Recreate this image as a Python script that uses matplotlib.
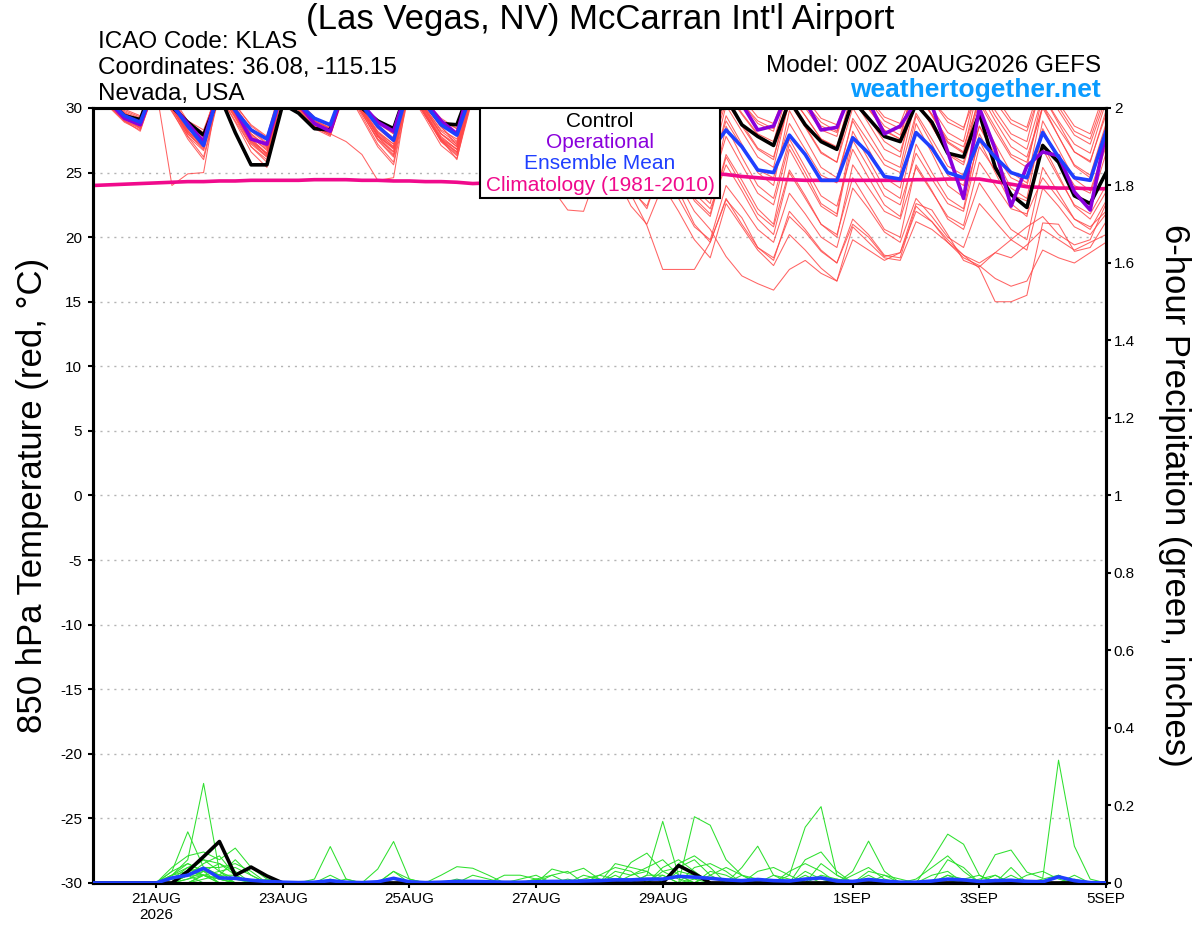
import numpy as np
import pandas as pd
import matplotlib
matplotlib.use('Agg')
import matplotlib.pyplot as plt
from matplotlib.patches import Rectangle

plt.rcParams['font.family'] = ['Liberation Sans', 'DejaVu Sans']
plt.rcParams['axes.unicode_minus'] = False

# 6-hourly valid times, 00Z 20AUG2026 -> 00Z 05SEP2026
times = pd.date_range('2026-08-20 00:00', periods=65, freq='6h')

# 850 hPa temperature (C)
control = [31.5, 30.6, 29.4, 29.1, 32.5, 30.1, 28.9, 27.9, 31.0, 28.1, 25.6, 25.6,
           30.3, 29.6, 28.4, 28.3, 32.0, 30.0, 29.0, 28.4, 32.0, 30.3, 28.8, 28.7,
           32.0, 30.8, 29.5, 28.8, 32.0, 30.5, 29.2, 28.5, 31.5, 30.0, 28.8, 28.0,
           31.5, 30.2, 29.2, 28.4, 30.8, 28.7, 27.8, 27.1, 30.6, 28.7, 27.4, 26.8,
           30.6, 29.2, 27.8, 27.4, 30.3, 28.9, 26.5, 26.2, 29.6, 25.4, 23.3, 22.3,
           27.1, 25.8, 23.2, 22.6, 25.0]
operational = [31.5, 30.5, 29.2, 28.7, 32.0, 30.2, 28.8, 27.4, 31.5, 29.8, 27.6, 27.2,
               31.5, 30.3, 28.8, 28.2, 32.0, 30.3, 28.9, 28.2, 32.0, 30.5, 29.0, 28.0,
               32.5, 31.0, 29.6, 29.0, 32.5, 31.0, 29.8, 29.0, 32.0, 30.8, 29.5, 28.8,
               32.0, 30.6, 29.5, 29.0, 31.5, 30.3, 28.3, 28.6, 31.5, 30.5, 28.3, 28.5,
               31.5, 30.5, 28.0, 28.6, 30.5, 30.2, 26.6, 23.0, 30.0, 26.8, 22.4, 25.5,
               26.6, 26.3, 23.5, 22.1, 28.1]
ens_mean = [31.3, 30.6, 29.4, 28.9, 32.0, 30.3, 28.6, 27.1, 31.5, 29.8, 28.3, 27.6,
            31.5, 30.3, 29.2, 28.7, 32.0, 30.2, 28.6, 27.5, 31.8, 30.3, 28.7, 27.9,
            31.5, 30.3, 29.0, 28.2, 31.3, 29.8, 28.4, 27.6, 30.8, 29.2, 27.8, 27.0,
            30.3, 28.8, 27.5, 26.6, 28.3, 27.0, 25.2, 25.0, 27.9, 26.4, 24.4, 24.4,
            27.7, 26.5, 24.7, 24.5, 28.1, 26.9, 25.0, 24.6, 27.6, 26.2, 25.0, 24.6,
            28.1, 26.2, 24.6, 24.4, 28.2]
climatology = [24.0, 24.05, 24.1, 24.15, 24.2, 24.25, 24.3, 24.3,
               24.35, 24.35, 24.4, 24.4, 24.4, 24.4, 24.45, 24.45,
               24.45, 24.4, 24.4, 24.35, 24.35, 24.3, 24.3, 24.25,
               24.15, 24.2, 24.3, 24.4, 24.5, 24.6, 24.7, 24.8,
               24.9, 25.0, 25.05, 25.1, 25.1, 25.05, 25.0, 24.95,
               24.85, 24.7, 24.6, 24.5, 24.45, 24.4, 24.4, 24.4,
               24.4, 24.4, 24.4, 24.4, 24.45, 24.45, 24.5, 24.5,
               24.5, 24.3, 24.1, 23.9, 23.85, 23.8, 23.8, 23.75, 23.75]

members = [
    [31.8, 30.8, 29.6, 29.0, 31.5, 24.0, 24.9, 25.0, 32.0, 30.2, 28.7, 27.8,
     32.2, 30.6, 29.3, 28.6, 32.5, 30.4, 28.9, 28.0, 32.0, 30.5, 29.2, 28.4,
     32.4, 30.9, 29.6, 28.9, 32.6, 31.0, 29.7, 29.0, 32.0, 30.4, 29.0, 28.2,
     31.5, 29.8, 28.4, 27.6, 31.2, 29.5, 27.9, 27.2, 31.0, 29.4, 27.6, 27.0,
     31.4, 29.9, 28.3, 27.6, 31.0, 29.5, 27.6, 27.0, 30.6, 28.5, 26.4, 25.8,
     30.2, 28.4, 26.6, 25.9, 29.5],
    [32.0, 30.9, 29.8, 29.3, 32.4, 30.9, 29.0, 28.3, 31.6, 30.0, 28.4, 27.5,
     31.5, 30.2, 28.6, 28.0, 27.4, 26.4, 24.4, 24.6, 32.0, 30.2, 28.8, 28.0,
     31.5, 30.2, 28.8, 28.0, 31.0, 29.4, 27.8, 27.1, 30.2, 28.6, 26.8, 26.0,
     29.5, 27.6, 25.8, 25.0, 29.0, 27.0, 25.2, 24.6, 28.8, 26.8, 24.8, 24.2,
     29.2, 27.4, 25.6, 25.0, 29.6, 27.6, 25.5, 24.8, 28.6, 26.4, 24.6, 24.0,
     28.0, 26.0, 24.0, 23.4, 27.0],
    [31.2, 30.1, 28.9, 28.3, 31.6, 29.7, 27.8, 26.7, 31.0, 29.0, 27.0, 26.0,
     31.3, 29.9, 28.5, 27.9, 31.4, 29.2, 27.0, 25.6, 31.2, 29.2, 27.1, 26.1,
     30.8, 28.8, 26.8, 25.6, 28.0, 23.8, 22.1, 22.0, 25.5, 24.0, 23.3, 20.9,
     17.5, 17.5, 17.5, 19.6, 22.9, 21.5, 19.2, 18.4, 21.6, 20.4, 18.9, 18.0,
     21.0, 20.0, 18.5, 18.8, 22.6, 22.1, 20.2, 18.2, 17.7, 18.8, 19.8, 20.8,
     21.6, 20.2, 19.4, 19.8, 22.6],
    [31.5, 30.4, 29.1, 28.5, 31.9, 30.0, 28.0, 26.9, 31.3, 29.4, 27.3, 26.3,
     31.5, 30.0, 28.6, 28.0, 31.8, 29.8, 27.8, 26.6, 31.5, 29.6, 27.7, 26.8,
     31.3, 29.3, 27.4, 26.4, 30.6, 28.4, 26.2, 25.0, 28.6, 26.4, 24.2, 23.0,
     26.4, 24.2, 22.0, 20.6, 18.5, 17.0, 16.4, 15.9, 17.5, 18.2, 17.2, 16.6,
     20.8, 19.6, 18.4, 18.2, 21.2, 20.6, 19.6, 18.6, 17.6, 15.0, 15.0, 15.5,
     21.1, 21.0, 18.9, 19.2, 21.2],
    [31.6, 30.5, 29.3, 28.8, 32.2, 30.4, 28.4, 27.3, 31.4, 29.6, 28.0, 27.0,
     31.8, 30.3, 29.0, 28.4, 32.1, 30.1, 28.4, 27.4, 31.8, 30.0, 28.3, 27.6,
     32.0, 30.4, 29.0, 28.3, 32.2, 30.6, 29.2, 28.5, 31.6, 30.0, 28.6, 27.8,
     31.8, 30.2, 28.8, 28.0, 32.0, 30.4, 29.0, 28.4, 32.2, 30.4, 28.9, 28.2,
     32.0, 30.2, 28.6, 27.9, 32.3, 30.6, 29.2, 28.5, 31.6, 29.4, 27.6, 26.8,
     31.0, 29.0, 27.2, 26.5, 30.5],
    [31.9, 30.7, 29.5, 28.9, 32.5, 30.2, 28.0, 26.8, 31.8, 29.8, 27.6, 26.4,
     31.6, 30.1, 28.8, 28.1, 31.8, 29.8, 27.8, 26.9, 32.0, 30.2, 28.5, 27.4,
     32.5, 30.8, 29.4, 28.6, 32.8, 31.0, 29.5, 28.8, 32.6, 30.8, 29.2, 28.5,
     32.0, 30.3, 28.8, 28.1, 31.4, 29.6, 28.0, 27.4, 31.8, 30.0, 28.3, 27.8,
     32.4, 30.6, 29.0, 28.4, 31.5, 29.5, 27.4, 26.6, 32.0, 29.8, 28.0, 27.4,
     32.2, 30.1, 28.2, 27.6, 31.2],
    [31.4, 30.4, 29.2, 28.6, 32.0, 30.0, 27.8, 26.2, 31.2, 29.2, 27.0, 25.8,
     31.4, 30.0, 28.6, 27.9, 31.5, 29.6, 27.6, 26.6, 31.6, 29.8, 27.8, 26.8,
     31.8, 30.2, 28.8, 28.0, 32.0, 30.3, 28.8, 28.0, 31.5, 29.6, 27.8, 27.0,
     30.8, 29.0, 27.2, 26.4, 30.5, 28.6, 26.8, 26.0, 31.2, 29.4, 27.6, 26.9,
     30.8, 28.8, 26.8, 26.2, 31.4, 29.4, 27.3, 26.5, 30.4, 28.2, 26.2, 25.4,
     31.0, 28.8, 26.6, 25.8, 29.8],
    [32.2, 31.0, 29.9, 29.4, 32.6, 30.7, 28.8, 27.9, 32.0, 30.3, 28.6, 27.7,
     32.0, 30.5, 29.2, 28.7, 32.4, 30.5, 28.8, 28.0, 32.3, 30.6, 29.0, 28.4,
     32.6, 31.0, 29.6, 29.0, 32.4, 30.8, 29.4, 28.7, 31.8, 30.2, 28.7, 27.9,
     32.2, 30.6, 29.2, 28.6, 32.5, 30.8, 29.3, 28.8, 32.0, 30.2, 28.6, 28.1,
     32.6, 30.8, 29.3, 28.8, 32.0, 30.0, 28.1, 27.4, 32.4, 30.5, 28.8, 28.2,
     31.8, 29.8, 27.9, 27.2, 30.8],
    [31.7, 30.6, 29.4, 28.4, 32.1, 30.1, 28.2, 27.0, 31.5, 29.5, 27.4, 26.2,
     31.7, 30.2, 28.9, 28.3, 31.6, 29.4, 27.2, 25.8, 31.7, 29.9, 28.0, 27.0,
     32.1, 30.5, 29.0, 28.2, 31.6, 29.9, 28.3, 27.5, 31.0, 29.2, 27.5, 26.6,
     31.2, 29.4, 27.6, 26.9, 30.8, 28.8, 26.9, 26.2, 30.4, 28.5, 26.5, 25.8,
     31.0, 29.2, 27.4, 26.6, 30.6, 28.6, 26.5, 25.8, 31.2, 29.0, 27.0, 26.2,
     30.0, 27.8, 25.6, 24.8, 28.8],
    [32.0, 30.8, 29.6, 29.1, 32.3, 30.6, 28.9, 28.1, 31.9, 30.1, 28.3, 27.3,
     31.9, 30.4, 29.0, 28.5, 32.2, 30.3, 28.6, 27.7, 32.1, 30.4, 28.6, 27.1,
     32.3, 30.6, 29.2, 28.5, 32.5, 30.8, 29.3, 28.6, 32.2, 30.6, 29.0, 28.3,
     32.5, 30.8, 29.4, 28.8, 32.2, 30.4, 28.8, 28.2, 32.6, 30.8, 29.2, 28.7,
     32.0, 30.0, 28.2, 27.6, 32.5, 30.6, 28.9, 28.3, 32.8, 30.9, 29.1, 28.5,
     32.4, 30.4, 28.6, 28.0, 31.6],
    [31.5, 30.3, 29.0, 28.2, 31.9, 29.8, 27.6, 26.0, 31.0, 28.9, 26.6, 25.4,
     31.5, 30.0, 28.7, 28.0, 31.9, 29.9, 28.1, 27.2, 31.5, 29.5, 27.4, 26.4,
     31.7, 30.0, 28.5, 27.6, 31.2, 29.5, 27.8, 26.9, 30.8, 28.8, 26.9, 25.8,
     30.0, 28.0, 26.0, 25.2, 30.2, 28.2, 26.2, 25.4, 30.6, 28.6, 26.6, 25.8,
     30.0, 28.0, 26.0, 25.4, 30.8, 28.6, 26.4, 25.6, 29.6, 27.2, 25.0, 24.2,
     30.2, 27.8, 25.5, 24.6, 28.6],
    [31.6, 30.5, 29.3, 28.7, 32.0, 30.2, 28.3, 27.5, 31.3, 29.5, 27.7, 26.8,
     31.7, 30.3, 29.0, 28.4, 32.0, 30.0, 28.1, 27.0, 31.6, 29.8, 28.0, 27.2,
     31.6, 29.8, 28.2, 27.4, 31.0, 29.0, 27.0, 26.0, 29.5, 27.5, 25.5, 24.5,
     28.8, 26.8, 24.6, 23.6, 27.8, 25.6, 23.4, 22.5, 27.2, 25.0, 22.6, 21.8,
     28.2, 26.0, 23.8, 23.0, 28.8, 26.5, 24.0, 23.1, 27.5, 25.0, 22.6, 21.6,
     28.4, 26.0, 23.5, 22.5, 26.5],
    [31.8, 30.6, 29.4, 28.9, 32.2, 30.3, 28.4, 27.4, 31.6, 29.8, 27.8, 26.7,
     31.4, 29.8, 28.4, 27.8, 31.7, 29.6, 27.5, 26.2, 31.4, 29.4, 27.6, 26.8,
     31.2, 29.4, 27.8, 26.9, 30.4, 28.4, 26.4, 25.2, 29.6, 27.2, 24.8, 23.4,
     28.0, 25.6, 23.0, 21.8, 26.4, 24.4, 22.2, 21.0, 26.8, 24.6, 22.4, 21.6,
     27.5, 25.4, 23.2, 22.5, 26.5, 24.5, 22.6, 22.0, 27.0, 25.2, 23.3, 22.8,
     26.8, 24.6, 22.5, 21.8, 24.0],
    [31.3, 30.2, 29.0, 28.5, 31.8, 30.0, 28.1, 27.2, 31.1, 29.3, 27.4, 26.5,
     31.6, 30.1, 28.8, 28.2, 31.6, 29.7, 27.9, 26.9, 31.3, 29.4, 27.5, 26.6,
     31.0, 29.0, 27.2, 26.2, 29.8, 27.6, 25.4, 24.4, 28.4, 26.0, 24.0, 23.0,
     28.2, 26.0, 23.8, 22.6, 28.6, 26.2, 24.0, 23.0, 27.6, 25.4, 23.2, 22.4,
     26.8, 24.6, 22.5, 21.6, 27.2, 25.0, 23.0, 22.2, 28.0, 25.6, 23.2, 22.3,
     27.2, 24.8, 22.4, 21.4, 23.5],
    [32.1, 30.9, 29.7, 29.2, 32.4, 30.5, 28.6, 27.6, 31.7, 29.9, 28.0, 27.0,
     31.9, 30.4, 29.1, 28.6, 32.0, 29.9, 27.8, 26.4, 31.9, 30.0, 28.2, 27.3,
     31.8, 30.0, 28.4, 27.6, 31.4, 29.5, 27.6, 26.6, 30.4, 28.4, 26.2, 25.0,
     29.4, 27.4, 25.4, 24.4, 29.4, 27.2, 25.0, 24.0, 29.8, 27.6, 25.4, 24.6,
     29.0, 26.8, 24.6, 23.8, 29.4, 27.2, 24.8, 24.0, 28.6, 26.2, 23.8, 23.0,
     29.0, 26.8, 24.5, 23.6, 27.2],
    [31.9, 30.7, 29.6, 29.0, 32.3, 30.4, 28.6, 27.8, 31.8, 30.0, 28.2, 27.2,
     32.1, 30.5, 29.2, 28.7, 32.3, 30.3, 28.5, 27.6, 31.7, 29.7, 27.6, 26.0,
     31.4, 29.6, 27.8, 27.0, 30.8, 28.8, 26.8, 25.8, 30.0, 27.8, 25.6, 24.2,
     28.2, 25.8, 23.4, 22.2, 25.6, 23.6, 21.4, 20.2, 25.0, 23.0, 21.0, 20.0,
     25.6, 23.8, 22.0, 21.4, 25.4, 23.5, 21.6, 20.9, 25.8, 24.0, 22.2, 21.8,
     24.6, 23.0, 21.4, 20.8, 22.0],
    [31.7, 30.5, 29.2, 28.6, 32.1, 30.2, 28.2, 27.1, 31.5, 29.7, 27.6, 26.5,
     31.8, 30.3, 28.9, 28.3, 31.9, 29.9, 28.0, 27.0, 31.4, 29.4, 27.4, 26.3,
     30.9, 28.8, 26.8, 25.6, 29.8, 27.6, 25.4, 24.0, 27.0, 24.8, 22.4, 21.0,
     24.0, 22.0, 19.8, 18.4, 22.6, 20.8, 19.0, 17.8, 20.2, 19.0, 17.6, 16.6,
     19.8, 19.0, 18.2, 18.8, 22.0, 21.2, 19.8, 18.6, 18.0, 18.8, 18.4, 19.4,
     20.6, 19.8, 19.0, 19.6, 20.2],
    [31.4, 30.2, 29.0, 28.4, 31.7, 29.9, 28.0, 27.0, 31.2, 29.3, 27.2, 26.2,
     31.6, 30.0, 28.7, 28.1, 31.7, 29.6, 27.6, 26.3, 31.5, 29.5, 27.5, 26.5,
     31.1, 29.1, 27.1, 26.0, 30.0, 28.0, 26.0, 24.8, 28.0, 25.8, 23.6, 22.4,
     25.8, 23.0, 20.8, 19.8, 24.0, 22.4, 20.6, 19.6, 23.4, 21.8, 20.0, 19.2,
     23.8, 22.2, 20.4, 19.6, 23.0, 21.6, 20.0, 19.2, 22.6, 21.2, 19.8, 19.0,
     23.8, 22.4, 20.8, 20.2, 21.8],
    [32.0, 30.8, 29.5, 28.9, 32.3, 30.4, 28.5, 27.6, 31.6, 29.8, 27.9, 26.9,
     31.8, 30.3, 29.0, 28.4, 32.0, 30.0, 28.2, 27.2, 31.8, 29.9, 28.0, 27.0,
     31.5, 29.6, 27.8, 26.8, 30.8, 28.8, 26.8, 25.6, 29.2, 27.0, 24.8, 23.6,
     27.4, 25.2, 22.8, 21.6, 26.2, 24.0, 21.8, 20.8, 25.2, 23.2, 21.0, 20.2,
     24.6, 22.6, 20.6, 20.0, 25.6, 23.6, 21.4, 20.6, 24.2, 22.4, 20.6, 19.8,
     25.4, 23.4, 21.4, 20.6, 22.8],
    [31.6, 30.4, 29.2, 28.6, 32.0, 30.1, 28.2, 27.2, 31.4, 29.5, 27.5, 26.4,
     31.7, 30.2, 28.8, 28.2, 31.9, 29.8, 27.9, 26.8, 31.6, 29.6, 27.6, 26.6,
     31.2, 29.2, 27.2, 26.0, 30.2, 28.2, 26.0, 24.6, 28.4, 26.2, 23.8, 22.2,
     26.0, 23.6, 21.0, 19.6, 23.0, 21.0, 19.2, 18.2, 22.0, 20.6, 19.0, 18.0,
     21.4, 20.2, 18.6, 18.4, 22.4, 21.2, 19.6, 18.4, 17.8, 16.8, 16.2, 16.6,
     19.0, 18.4, 18.0, 18.8, 19.6],
]

# 6-hour precipitation (inches): step index -> amount, dry elsewhere
precip_members = [
    {5: 0.02, 6: 0.06, 7: 0.257, 8: 0.03, 9: 0.01, 28: 0.01, 29: 0.02, 35: 0.02, 36: 0.159, 37: 0.02, 45: 0.03, 46: 0.01, 57: 0.02},
    {5: 0.03, 6: 0.132, 7: 0.04, 8: 0.02, 15: 0.02, 33: 0.05, 34: 0.04, 35: 0.03, 38: 0.171, 39: 0.149, 40: 0.06, 41: 0.02, 54: 0.02},
    {5: 0.04, 6: 0.07, 7: 0.08, 8: 0.06, 9: 0.09, 10: 0.04, 11: 0.01, 19: 0.03, 44: 0.02, 45: 0.144, 46: 0.197, 47: 0.02, 61: 0.02},
    {5: 0.01, 6: 0.04, 7: 0.06, 8: 0.05, 9: 0.03, 14: 0.01, 15: 0.094, 16: 0.01, 48: 0.03, 49: 0.108, 50: 0.03},
    {6: 0.02, 7: 0.05, 8: 0.07, 9: 0.02, 18: 0.036, 19: 0.107, 20: 0.01, 53: 0.06, 54: 0.126, 55: 0.10, 56: 0.02},
    {5: 0.03, 6: 0.05, 7: 0.03, 8: 0.02, 22: 0.02, 23: 0.042, 24: 0.038, 25: 0.02, 57: 0.073, 58: 0.085, 59: 0.028, 60: 0.012, 61: 0.317, 62: 0.095, 63: 0.01},
    {5: 0.02, 6: 0.03, 7: 0.04, 8: 0.04, 9: 0.05, 10: 0.03, 29: 0.036, 30: 0.025, 31: 0.038, 32: 0.01, 41: 0.04, 42: 0.095, 43: 0.02},
    {6: 0.01, 7: 0.03, 8: 0.02, 9: 0.06, 10: 0.02, 26: 0.02, 27: 0.02, 28: 0.01, 34: 0.053, 35: 0.077, 36: 0.03, 37: 0.01, 49: 0.02, 54: 0.06, 55: 0.04},
    {5: 0.01, 6: 0.02, 7: 0.02, 8: 0.01, 19: 0.03, 20: 0.01, 33: 0.02, 36: 0.04, 37: 0.06, 38: 0.03, 45: 0.06, 46: 0.08, 47: 0.03, 58: 0.04},
    {6: 0.03, 7: 0.06, 8: 0.03, 24: 0.02, 25: 0.01, 31: 0.02, 32: 0.01, 37: 0.05, 38: 0.07, 39: 0.04, 52: 0.01, 53: 0.04, 54: 0.07, 55: 0.03, 62: 0.01},
    {5: 0.02, 6: 0.04, 7: 0.02, 11: 0.01, 16: 0.01, 29: 0.02, 30: 0.03, 39: 0.03, 40: 0.02, 42: 0.03, 43: 0.04, 44: 0.02, 50: 0.02, 51: 0.01, 60: 0.01, 61: 0.02},
    {6: 0.02, 7: 0.03, 8: 0.05, 9: 0.02, 27: 0.01, 28: 0.02, 33: 0.03, 34: 0.02, 35: 0.04, 36: 0.06, 37: 0.02, 46: 0.05, 47: 0.02, 56: 0.01, 57: 0.02},
    {7: 0.02, 8: 0.03, 9: 0.04, 10: 0.02, 23: 0.01, 35: 0.02, 36: 0.02, 38: 0.04, 39: 0.05, 40: 0.03, 48: 0.02, 49: 0.04, 50: 0.01, 58: 0.02},
    {5: 0.02, 6: 0.05, 7: 0.03, 31: 0.01, 32: 0.02, 33: 0.04, 34: 0.03, 44: 0.03, 45: 0.05, 46: 0.03, 53: 0.02, 54: 0.03, 62: 0.02},
    {6: 0.01, 7: 0.02, 19: 0.01, 36: 0.03, 37: 0.04, 38: 0.06, 39: 0.02, 41: 0.02, 42: 0.01, 47: 0.01, 59: 0.02, 60: 0.03, 61: 0.01},
    {6: 0.03, 7: 0.02, 8: 0.01, 30: 0.01, 34: 0.02, 35: 0.03, 43: 0.02, 44: 0.01, 55: 0.01, 56: 0.02},
    {7: 0.01, 8: 0.02, 9: 0.02, 37: 0.03, 38: 0.02, 45: 0.02, 49: 0.03, 50: 0.02},
    {5: 0.01, 6: 0.02, 15: 0.01, 39: 0.02, 40: 0.04, 41: 0.02, 57: 0.01},
    {6: 0.02, 7: 0.04, 8: 0.02, 32: 0.02, 33: 0.01, 36: 0.02, 46: 0.02, 47: 0.01},
    {7: 0.02, 8: 0.01, 28: 0.01, 38: 0.01, 42: 0.01, 54: 0.02, 55: 0.01},
]
precip_control = {6: 0.03, 7: 0.068, 8: 0.107, 9: 0.02, 10: 0.041, 11: 0.018, 37: 0.045, 38: 0.024}
precip_mean = [0, 0, 0, 0, 0, 0.013, 0.02, 0.038, 0.013, 0.012, 0.007, 0.004,
               0.002, 0.001, 0.002, 0.006, 0.002, 0.001, 0.003, 0.012, 0.003, 0.001, 0.002, 0.004,
               0.004, 0.003, 0.002, 0.002, 0.003, 0.004, 0.004, 0.005, 0.006, 0.008, 0.008, 0.010,
               0.010, 0.017, 0.015, 0.012, 0.008, 0.006, 0.009, 0.006, 0.005, 0.010, 0.013, 0.005,
               0.004, 0.009, 0.005, 0.002, 0.002, 0.005, 0.010, 0.008, 0.004, 0.006, 0.007, 0.004,
               0.003, 0.016, 0.006, 0.001, 0]

tick_dates = ['2026-08-21', '2026-08-23', '2026-08-25', '2026-08-27',
              '2026-08-29', '2026-09-01', '2026-09-03', '2026-09-05']
tick_labels = ['21AUG\n2026', '23AUG', '25AUG', '27AUG', '29AUG', '1SEP', '3SEP', '5SEP']
legend_items = [('Control', 'black'), ('Operational', '#8a00dc'),
                ('Ensemble Mean', '#1f3fff'), ('Climatology (1981-2010)', '#f00a8c')]


def full_series(events):
    vals = np.zeros(len(times))
    for k, v in events.items():
        vals[k] = v
    return vals


fig = plt.figure(figsize=(12, 9.27), dpi=100)
ax = fig.add_axes([0.0773, 0.0475, 0.8444, 0.836])

for m in members:
    ax.plot(times, m, color='#ff4848', lw=0.75, alpha=0.85, zorder=2)
ax.plot(times, climatology, color='#f00a8c', lw=2.6, zorder=3)
ax.plot(times, control, color='black', lw=2.6, zorder=4)
ax.plot(times, operational, color='#8a00dc', lw=2.6, zorder=5)
ax.plot(times, ens_mean, color='#1f3fff', lw=2.6, zorder=6)

ax.set_xlim(times[0], times[-1])
ax.set_ylim(-30, 30)
ax.set_yticks(range(-30, 31, 5))
ax.set_xticks(pd.to_datetime(tick_dates))
ax.set_xticklabels(tick_labels)
ax.grid(axis='y', linestyle=(0, (1.5, 3.5)), color='#b4b4b4', lw=1.0)
ax.tick_params(direction='out', length=3.6, width=1.5, labelsize=11, pad=4)
ax.tick_params(axis='x', pad=3)

ax2 = ax.twinx()
for p in precip_members:
    ax2.plot(times, full_series(p), color='#2ee02e', lw=0.75, zorder=2)
ax2.plot(times, full_series(precip_control), color='black', lw=2.6, zorder=4)
ax2.plot(times, precip_mean, color='#1f3fff', lw=2.6, zorder=5)
ax2.set_ylim(0, 2)
ax2.set_yticks(np.arange(0, 2.01, 0.2))
ax2.set_yticklabels(['0', '0.2', '0.4', '0.6', '0.8', '1', '1.2', '1.4', '1.6', '1.8', '2'])
ax2.tick_params(direction='out', length=3.6, width=1.5, labelsize=11, pad=2)

for a in (ax, ax2):
    for s in a.spines.values():
        s.set_linewidth(2.2)

# legend box
ax2.add_patch(Rectangle((0.382, 0.884), 0.237, 0.116, transform=ax2.transAxes,
                        facecolor='white', edgecolor='black', lw=1.5, zorder=20))
for i, (txt, col) in enumerate(legend_items):
    ax2.text(0.5006, 0.983 - i * 0.0275, txt, color=col, fontsize=15,
             ha='center', va='center', transform=ax2.transAxes, zorder=21)

fig.text(0.5, 0.9687, "(Las Vegas, NV) McCarran Int'l Airport", fontsize=25, ha='center', va='baseline')
fig.text(0.0817, 0.9482, 'ICAO Code: KLAS', fontsize=17.5, va='baseline')
fig.text(0.0817, 0.9202, 'Coordinates: 36.08, -115.15', fontsize=17.5, va='baseline')
fig.text(0.0817, 0.8921, 'Nevada, USA', fontsize=17.5, va='baseline')
fig.text(0.9175, 0.9223, 'Model: 00Z 20AUG2026 GEFS', fontsize=17.5, ha='right', va='baseline')
fig.text(0.9175, 0.8954, 'weathertogether.net', fontsize=19, fontweight='bold',
         color='#0a9bff', ha='right', va='baseline')
fig.text(0.027, 0.466, '850 hPa Temperature (red, \u00b0C)', fontsize=25, rotation=90,
         ha='center', va='center')
fig.text(0.979, 0.466, '6-hour Precipitation (green, inches)', fontsize=25, rotation=270,
         ha='center', va='center')

fig.savefig('out.png', dpi=100)
